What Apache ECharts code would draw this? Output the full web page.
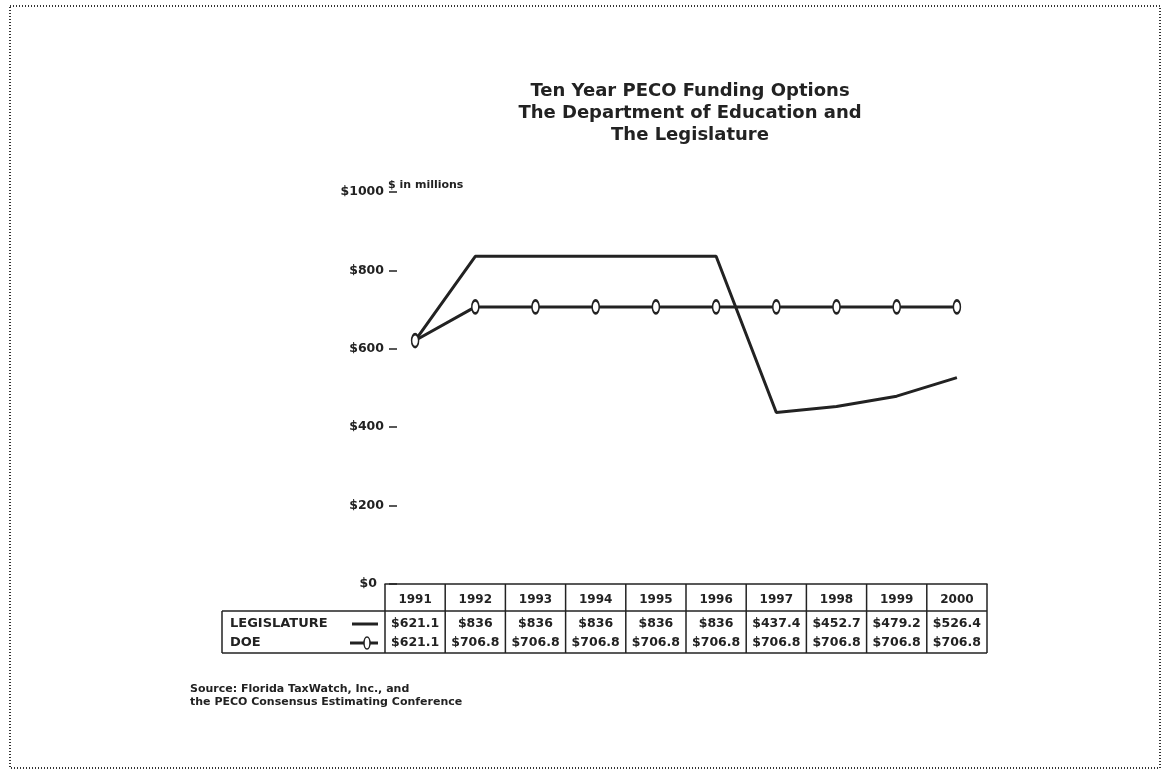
<!DOCTYPE html>
<html><head><meta charset="utf-8">
<script src="https://cdn.jsdelivr.net/npm/echarts@6/dist/echarts.min.js"></script>
<style>html,body{margin:0;padding:0;background:#fff}#c{width:1164px;height:780px}</style>
</head><body><div id="c"></div>
<script>
const years = ['1991','1992','1993','1994','1995','1996','1997','1998','1999','2000'];
const legislature = [621.1, 836, 836, 836, 836, 836, 437.4, 452.7, 479.2, 526.4];
const doe = [621.1, 706.8, 706.8, 706.8, 706.8, 706.8, 706.8, 706.8, 706.8, 706.8];
const seriesNames = ['LEGISLATURE', 'DOE'];
const titleLines = ['Ten Year PECO Funding Options', 'The Department of Education and', 'The Legislature'];
const unitLabel = '$ in millions';
const sourceLines = ['Source: Florida TaxWatch, Inc., and', 'the PECO Consensus Estimating Conference'];

const INK = '#222';
const FONT = '"DejaVu Sans", Verdana, sans-serif';
const gridLeft = 385, gridRight = 987, gridTop = 192, gridBottom = 584;

const chart = echarts.init(document.getElementById('c'), null, {renderer: 'canvas'});
chart.setOption({
  animation: false,
  backgroundColor: '#fff',
  grid: {left: gridLeft, right: 1164 - gridRight, top: gridTop, bottom: 780 - gridBottom},
  xAxis: {
    type: 'category', data: years, boundaryGap: true,
    axisLine: {lineStyle: {color: INK, width: 1.5}},
    axisTick: {inside: true, alignWithLabel: true, length: 9, lineStyle: {color: INK, width: 1.5}},
    axisLabel: {show: false}, splitLine: {show: false}
  },
  yAxis: {
    type: 'value', min: 0, max: 1000, interval: 200, offset: -12,
    axisLine: {show: false}, splitLine: {show: false},
    axisTick: {show: true, length: 8, lineStyle: {color: INK, width: 1.5}},
    axisLabel: {
      margin: 13, color: INK, fontFamily: FONT, fontWeight: 'bold', fontSize: 12.5,
      formatter: v => v === 0 ? '{z|$0}' : '$' + v,
      rich: {z: {padding: [0, 7, 0, 0], color: INK, fontFamily: FONT, fontWeight: 'bold', fontSize: 12.5}}
    }
  },
  series: [
    {name: seriesNames[0], type: 'line', data: legislature, symbol: 'none',
     lineStyle: {color: INK, width: 3}, z: 3},
    {name: seriesNames[1], type: 'line', data: doe, symbol: 'emptyCircle', symbolSize: [7, 13],
     showAllSymbol: true,
     itemStyle: {color: INK, borderColor: INK, borderWidth: 1.5},
     lineStyle: {color: INK, width: 3}, z: 4}
  ]
});

// Build table and annotations from the data arrays
const centers = years.map((y, i) => chart.convertToPixel({xAxisIndex: 0}, i));
const band = (gridRight - gridLeft) / years.length;
const tTop = gridBottom, tHead = 611, tBot = 653;
const rowLeg = 624, rowDoe = 643;
const boxLeft = 222;
const g = [];
function line(x1, y1, x2, y2, w) { g.push({type: 'line', shape: {x1, y1, x2, y2}, style: {stroke: INK, lineWidth: w || 1.5}, silent: true}); }
function txt(x, y, text, opts) {
  g.push({type: 'text', x, y, silent: true, style: Object.assign({text, fill: INK, font: 'bold 12.5px ' + FONT, textAlign: 'center', textVerticalAlign: 'middle'}, opts || {})});
}
line(gridRight, tTop, gridRight, tBot);
line(gridLeft, tTop, gridLeft, tBot);
years.forEach((y, i) => { if (i > 0) line(centers[i] - band / 2, tTop, centers[i] - band / 2, tBot); });
line(boxLeft, tHead, gridRight, tHead);
line(boxLeft, tBot, gridRight, tBot);
line(boxLeft, tHead, boxLeft, tBot);
const fmt = v => '$' + v;
years.forEach((y, i) => {
  txt(centers[i], (tTop + tHead) / 2 + 2, y, {font: 'bold 12px ' + FONT});
  txt(centers[i], rowLeg, fmt(legislature[i]));
  txt(centers[i], rowDoe, fmt(doe[i]));
});
txt(boxLeft + 8, rowLeg, seriesNames[0], {textAlign: 'left', font: 'bold 13px ' + FONT, letterSpacing: 0.8});
txt(boxLeft + 8, rowDoe, seriesNames[1], {textAlign: 'left', font: 'bold 13px ' + FONT, letterSpacing: 0.8});
line(352, rowLeg, 378, rowLeg, 3);
line(350, rowDoe, 378, rowDoe, 3);
g.push({type: 'ellipse', shape: {cx: 367, cy: rowDoe, rx: 3, ry: 6}, style: {fill: '#fff', stroke: INK, lineWidth: 1.5}, silent: true});
// title
g.push({type: 'text', x: 690, y: 80, silent: true,
  style: {text: titleLines.join('\n'), fill: INK, font: 'bold 18px ' + FONT, textAlign: 'center', lineHeight: 22, letterSpacing: 0.2}});
// unit label
txt(388, 185, unitLabel, {textAlign: 'left', font: 'bold 11px ' + FONT, letterSpacing: 0.5});
// source
g.push({type: 'text', x: 190, y: 683, silent: true,
  style: {text: sourceLines.join('\n'), fill: INK, font: 'bold 11px ' + FONT, textAlign: 'left', lineHeight: 13, letterSpacing: 0.5}});
// dotted frame
g.push({type: 'rect', shape: {x: 10, y: 6, width: 1150, height: 762}, silent: true,
  style: {fill: null, stroke: '#333', lineWidth: 2, lineDash: [1, 2]}});
chart.setOption({graphic: g});
</script></body></html>
